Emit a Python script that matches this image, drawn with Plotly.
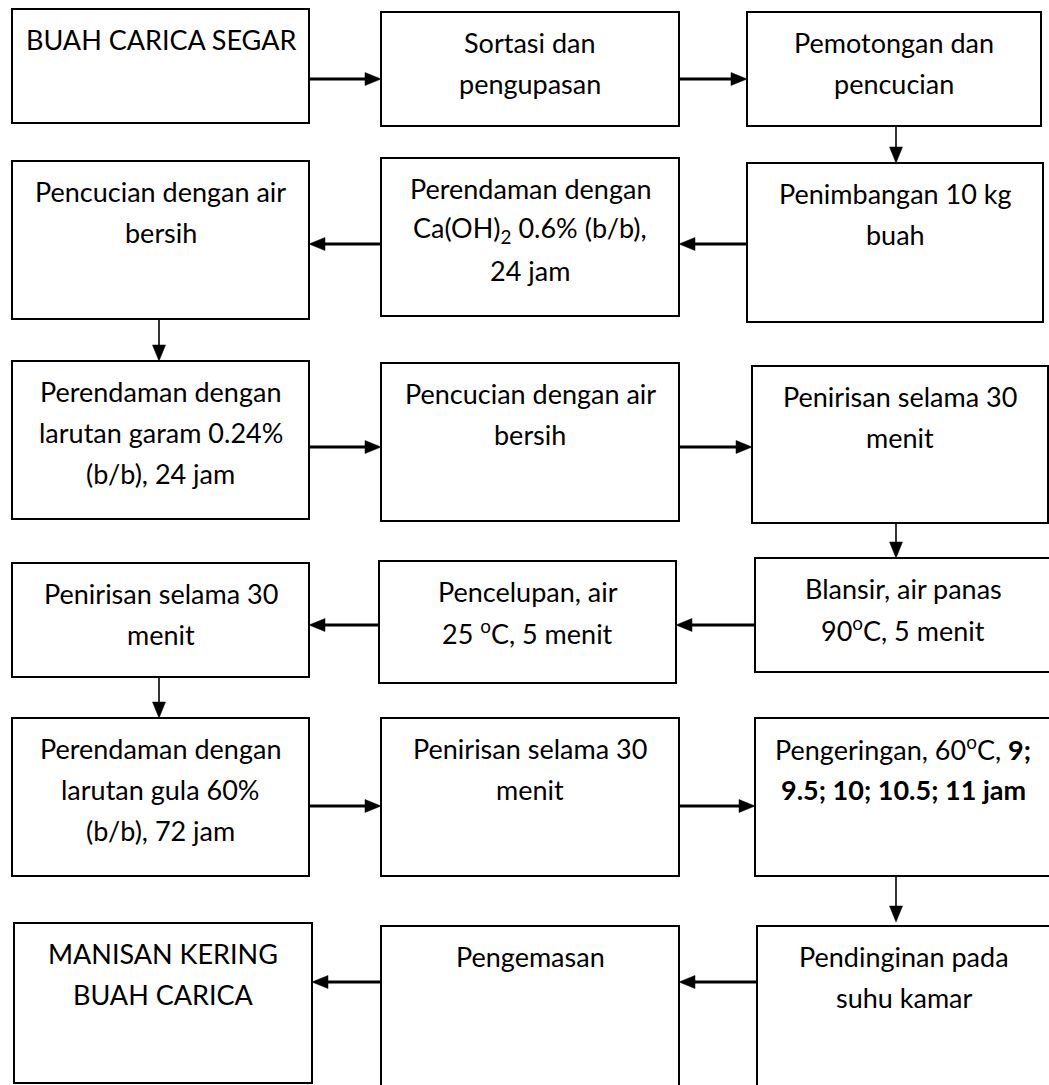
import plotly.graph_objects as go

# ---- data: flowchart step labels (in process order) ----
step_labels = [
    "BUAH CARICA SEGAR",
    "Sortasi dan<br>pengupasan",
    "Pemotongan dan<br>pencucian",
    "Penimbangan 10 kg<br>buah",
    "Perendaman dengan<br>Ca(OH)<sub>2</sub> 0.6% (b/b),<br>24 jam",
    "Pencucian dengan air<br>bersih",
    "Perendaman dengan<br>larutan garam 0.24%<br>(b/b), 24 jam",
    "Pencucian dengan air<br>bersih",
    "Penirisan selama 30<br>menit",
    "Blansir, air panas<br>90<sup>o</sup>C, 5 menit",
    "Pencelupan, air<br>25 <sup>o</sup>C, 5 menit",
    "Penirisan selama 30<br>menit",
    "Perendaman dengan<br>larutan gula 60%<br>(b/b), 72 jam",
    "Penirisan selama 30<br>menit",
    "Pengeringan, 60<sup>o</sup>C, <b>9;</b><br><b>9.5; 10; 10.5; 11 jam</b>",
    "Pendinginan pada<br>suhu kamar",
    "Pengemasan",
    "MANISAN KERING<br>BUAH CARICA",
]

# ---- layout geometry (pixels) ----
box_x0 = [12, 381, 747, 747, 381, 12, 12, 381, 752, 755, 379, 12, 12, 381, 755, 757, 381, 14]
box_x1 = [309, 679, 1041, 1043, 679, 309, 309, 679, 1048, 1055, 676, 309, 309, 679, 1055, 1055, 679, 312]
box_y0 = [9, 12, 12, 163, 158, 161, 361, 363, 366, 558, 561, 563, 718, 718, 718, 926, 926, 923]
box_y1 = [123, 126, 126, 322, 316, 319, 519, 521, 523, 672, 683, 677, 876, 876, 876, 1095, 1095, 1083]

# arrows: (tail x, tail y, head x, head y, kind)
arrows = [
    (309, 79, 381, 79, "h"), (679, 79, 747, 79, "h"), (896, 126, 896, 163, "v"),
    (747, 244, 679, 244, "h"), (381, 244, 309, 244, "h"), (159, 319, 159, 361, "v"),
    (309, 447, 381, 447, "h"), (679, 447, 752, 447, "h"), (896, 523, 896, 558, "v"),
    (755, 625, 676, 625, "h"), (379, 625, 309, 625, "h"), (159, 677, 159, 718, "v"),
    (309, 806, 381, 806, "h"), (679, 806, 755, 806, "h"), (896, 876, 896, 922, "v"),
    (757, 982, 679, 982, "h"), (381, 982, 312, 982, "h"),
]

W, H = 1049, 1085
FONT = "Lato"
FSIZE = 27
LINE_GAP = 41
FIRST_OFF = 30

fig = go.Figure()
fig.add_trace(go.Scatter(x=[0, W], y=[0, H], mode="markers",
                         marker=dict(opacity=0), hoverinfo="skip", showlegend=False))

shapes = []
annotations = []
for i, label in enumerate(step_labels):
    x0, x1, y0, y1 = box_x0[i], box_x1[i], box_y0[i], box_y1[i]
    shapes.append(dict(type="rect", xref="x", yref="y", x0=x0, x1=x1, y0=y0, y1=y1,
                       line=dict(color="black", width=2), fillcolor="rgba(0,0,0,0)"))
    cx = (x0 + min(x1, 1051)) / 2.0
    for j, line in enumerate(label.split("<br>")):
        annotations.append(dict(xref="x", yref="y", x=cx, y=y0 + FIRST_OFF + j * LINE_GAP,
                                text=line, showarrow=False, xanchor="center", yanchor="middle",
                                font=dict(family=FONT, size=FSIZE, color="black")))

for (tx, ty, hx, hy, kind) in arrows:
    if kind == "h":
        lw, hl, hw = 3, 16, 6.5
    else:
        lw, hl, hw = 1.6, 16, 6.5
    dx = hx - tx
    dy = hy - ty
    length = (dx * dx + dy * dy) ** 0.5
    ux, uy = dx / length, dy / length
    bx, by = hx - ux * hl, hy - uy * hl
    px, py = -uy, ux
    shapes.append(dict(type="line", xref="x", yref="y", x0=tx, y0=ty, x1=bx + ux, y1=by + uy,
                       line=dict(color="black", width=lw)))
    path = "M {},{} L {},{} L {},{} Z".format(
        hx, hy, bx + px * hw, by + py * hw, bx - px * hw, by - py * hw)
    shapes.append(dict(type="path", xref="x", yref="y", path=path,
                       fillcolor="black", line=dict(color="black", width=0.5)))

fig.update_layout(
    width=W, height=H,
    margin=dict(l=0, r=0, t=0, b=0),
    paper_bgcolor="white", plot_bgcolor="white",
    xaxis=dict(range=[0, W], visible=False, fixedrange=True),
    yaxis=dict(range=[H, 0], visible=False, fixedrange=True),
    shapes=shapes, annotations=annotations, showlegend=False,
)

fig.write_html("out.html", config={"displayModeBar": False},
               post_script="document.body.style.margin='0';document.body.style.overflow='hidden';")
